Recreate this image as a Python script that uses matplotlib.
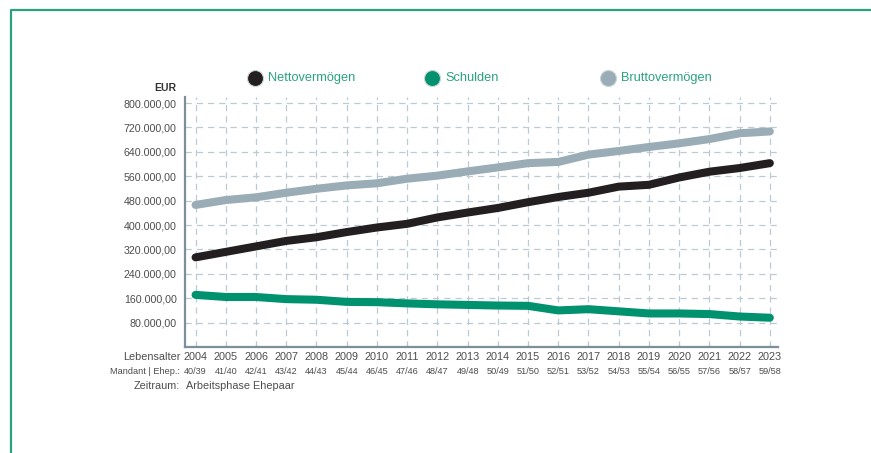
import numpy as np
import matplotlib.pyplot as plt
from matplotlib.lines import Line2D

plt.rcParams['font.family'] = ['Liberation Sans', 'DejaVu Sans']

years = list(range(2004, 2024))
ages = ["40/39", "41/40", "42/41", "43/42", "44/43", "45/44", "46/45", "47/46",
        "48/47", "49/48", "50/49", "51/50", "52/51", "53/52", "54/53", "55/54",
        "56/55", "57/56", "58/57", "59/58"]
netto = [294000, 312000, 330000, 348000, 360000, 377000, 392000, 404000, 425000, 441000,
         456000, 475000, 492000, 506000, 526000, 532000, 556000, 575000, 587000, 603000]
schulden = [171000, 164000, 164000, 157000, 155000, 148000, 147000, 143000, 140000, 138000,
            136000, 135000, 120000, 124000, 117000, 110000, 110000, 108000, 100000, 96000]
brutto = [466000, 482000, 491000, 506000, 519000, 530000, 537000, 552000, 562000, 576000,
          589000, 603000, 607000, 631000, 643000, 656000, 668000, 682000, 701000, 707000]
yticks = [80000, 160000, 240000, 320000, 400000, 480000, 560000, 640000, 720000, 800000]

c_netto = "#231f20"
c_schulden = "#00916e"
c_brutto = "#9aacb6"
c_text = "#4d4d4d"
c_grid = "#bccbd3"
c_label = "#2aa27f"

fig = plt.figure(figsize=(8.71, 4.53), dpi=100)
ax = fig.add_axes([185 / 871, 1 - 347 / 453, (778 - 185) / 871, (347 - 97) / 453])

x = np.arange(len(years))
ax.plot(x, brutto, color=c_brutto, lw=5.8, solid_capstyle='round', zorder=3)
ax.plot(x, netto, color=c_netto, lw=5.8, solid_capstyle='round', zorder=4)
ax.plot(x, schulden, color=c_schulden, lw=5.8, solid_capstyle='round', zorder=3)

ax.set_xlim(-0.35, 19.27)
ax.set_ylim(0, 820000)
ax.set_yticks(yticks)
ax.set_yticklabels([f"{v:,.2f}".replace(",", "X").replace(".", ",").replace("X", ".") for v in yticks],
                   color=c_text, fontsize=7.7)
ax.set_xticks(x)
ax.set_xticklabels([])
ax.grid(True, color=c_grid, ls=(0, (5, 4)), lw=0.9)
ax.tick_params(axis='y', length=0, pad=6)
ax.tick_params(axis='x', direction='in', length=3, color=c_grid, width=0.8)

for s in ['top', 'right']:
    ax.spines[s].set_visible(False)
for s in ['left', 'bottom']:
    ax.spines[s].set_color("#7d8f99")
    ax.spines[s].set_linewidth(1.6)

# bottom table rows
for i, (yr, ag) in enumerate(zip(years, ages)):
    ax.annotate(str(yr), (i, 0), xytext=(0, -7.5), textcoords='offset points',
                ha='center', va='center', fontsize=7.8, color=c_text, annotation_clip=False)
    ax.annotate(ag, (i, 0), xytext=(0, -17.5), textcoords='offset points',
                ha='center', va='center', fontsize=6.6, color=c_text, annotation_clip=False)

fig.text(180 / 871, 1 - 357 / 453, "Lebensalter", ha='right', va='center', fontsize=7.8, color=c_text)
fig.text(180 / 871, 1 - 371 / 453, "Mandant | Ehep.:", ha='right', va='center', fontsize=6.6, color=c_text)
fig.text(180 / 871, 1 - 386 / 453, "Zeitraum:", ha='right', va='center', fontsize=7.8, color=c_text)
fig.text(186 / 871, 1 - 386 / 453, "Arbeitsphase Ehepaar", ha='left', va='center', fontsize=7.8, color=c_text)
fig.text(176 / 871, 1 - 88 / 453, "EUR", ha='right', va='center', fontsize=7.5,
         fontweight='bold', color="#333333")

# legend
leg_items = [("Nettovermögen", c_netto, 255), ("Schulden", c_schulden, 432), ("Bruttovermögen", c_brutto, 608)]
for name, col, px in leg_items:
    fig.add_artist(Line2D([px / 871], [1 - 78 / 453], marker='o', markersize=11.5,
                          markerfacecolor=col, markeredgecolor="#c9d3d8", markeredgewidth=0.8,
                          transform=fig.transFigure))
    fig.text((px + 13) / 871, 1 - 78 / 453, name, ha='left', va='center', fontsize=9.2, color=c_label)

# green frame
fig.add_artist(Line2D([11 / 871, 11 / 871, 1.0], [0.0, 1 - 10 / 453, 1 - 10 / 453],
                      color="#2aa27f", lw=1.6, transform=fig.transFigure))

fig.savefig("out.png", dpi=100)
